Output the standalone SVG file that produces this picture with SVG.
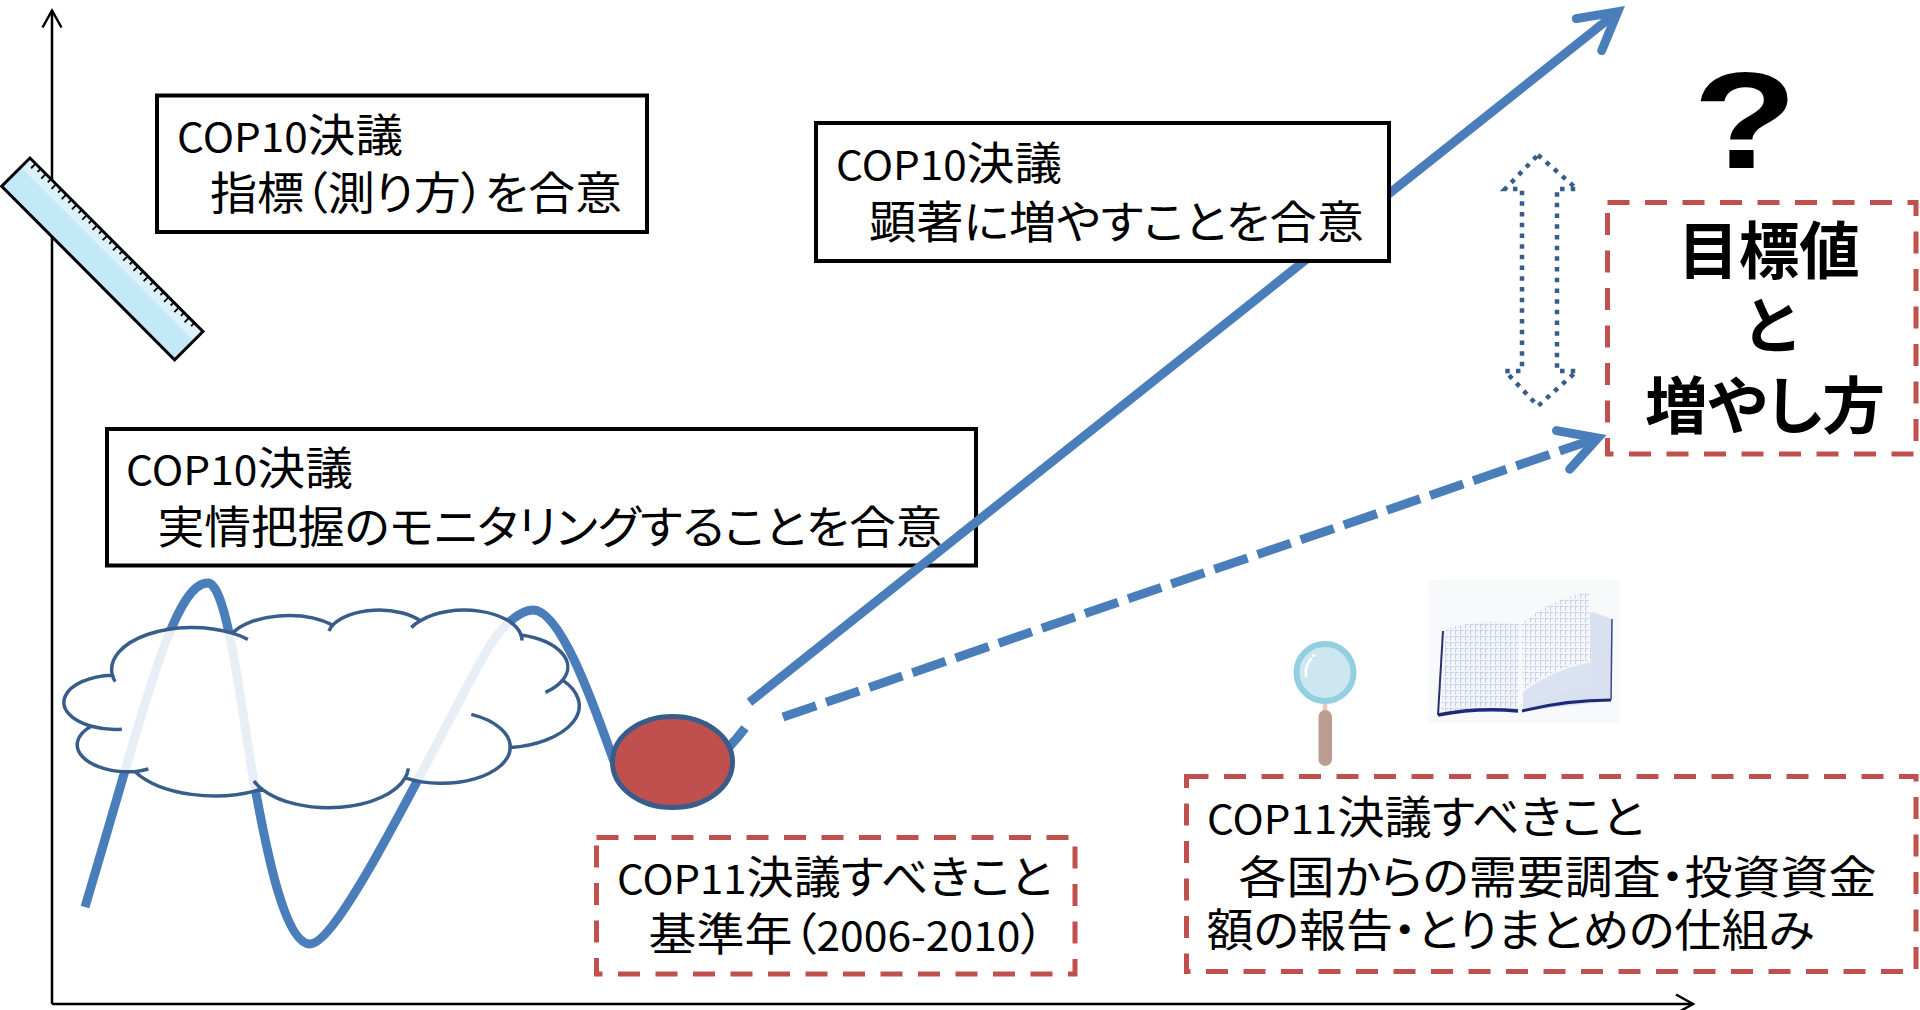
<svg xmlns="http://www.w3.org/2000/svg" width="1920" height="1010" viewBox="0 0 1920 1010">
<defs>
<style>
.tx{font-family:"Noto Sans CJK JP","Noto Sans",sans-serif;font-size:45px;fill:#000;font-feature-settings:"palt"}
.la{font-size:40px}
.bd{font-family:"Noto Sans CJK JP","Noto Sans",sans-serif;font-weight:700;font-size:62px;fill:#000;font-feature-settings:"palt"}
.box{fill:#fff;stroke:#000;stroke-width:4}
.dbox{fill:#fff;stroke:#C0504D;stroke-width:5;stroke-dasharray:22 15.5}
.blue{fill:none;stroke:#4A7EBB;stroke-width:9}
.axis{fill:none;stroke:#000;stroke-width:2.5}
</style>
<marker id="axisHead" markerUnits="userSpaceOnUse" orient="auto" overflow="visible" markerWidth="1" markerHeight="1">
<path d="M-17 -9.5L0 0L-17 9.5" fill="none" stroke="#000" stroke-width="2.5"/>
</marker>
<marker id="openHead" markerUnits="userSpaceOnUse" orient="auto" overflow="visible" markerWidth="1" markerHeight="1">
<path d="M-36.7 -20.4L0 0L-36.7 20.4" fill="none" stroke="#4A7EBB" stroke-width="9" stroke-linecap="round" stroke-linejoin="miter" stroke-miterlimit="10"/>
</marker>
<pattern id="pageGrid" patternUnits="userSpaceOnUse" width="5" height="6">
<path d="M0 0.5H3.6M0.5 0V4.6" stroke="#BBC5DC" stroke-width="0.8" fill="none"/>
</pattern>
</defs>
<rect width="1920" height="1010" fill="#fff"/>

<!-- axes -->
<g id="axes">
<path class="axis" d="M52 1004V10.5" marker-end="url(#axisHead)"/>
<path class="axis" d="M52 1004H1693" marker-end="url(#axisHead)"/>
</g>

<!-- ruler icon -->
<g id="ruler" transform="translate(30,158) rotate(45.1)">
<rect x="0" y="0" width="245" height="40" fill="#C3E8F7"/>
<rect x="0" y="0" width="245" height="13" fill="#DCF1FA"/>
<path d="M8 0V6.5M15.25 0V4.5M22.5 0V6.5M29.75 0V4.5M37 0V6.5M44.25 0V4.5M51.5 0V6.5M58.75 0V4.5M66 0V6.5M73.25 0V4.5M80.5 0V6.5M87.75 0V4.5M95 0V6.5M102.25 0V4.5M109.5 0V6.5M116.75 0V4.5M124 0V6.5M131.25 0V4.5M138.5 0V6.5M145.75 0V4.5M153 0V6.5M160.25 0V4.5M167.5 0V6.5M174.75 0V4.5M182 0V6.5M189.25 0V4.5M196.5 0V6.5M203.75 0V4.5M211 0V6.5M218.25 0V4.5M225.5 0V6.5M232.75 0V4.5" stroke="#000" stroke-width="1.8" fill="none"/>
<rect x="0" y="0" width="245" height="40" fill="none" stroke="#000" stroke-width="3"/>
</g>

<!-- COP10: indicator -->
<g id="boxIndicator">
<rect class="box" x="157" y="95.5" width="490" height="136.5"/>
<text class="tx"><tspan x="177" y="152" textLength="226" lengthAdjust="spacingAndGlyphs"><tspan class="la">COP10</tspan>決議</tspan><tspan x="210" y="210" textLength="412" lengthAdjust="spacingAndGlyphs">指標（測り方）を合意</tspan></text>
</g>

<!-- COP10: monitoring -->
<g id="boxMonitoring">
<rect class="box" x="107" y="429" width="869" height="136.5"/>
<text class="tx"><tspan x="126" y="485" textLength="227" lengthAdjust="spacingAndGlyphs"><tspan class="la">COP10</tspan>決議</tspan><tspan x="157.5" y="544" textLength="785" lengthAdjust="spacingAndGlyphs">実情把握のモニタリングすることを合意</tspan></text>
</g>

<!-- fluctuating history curve -->
<g id="history">
<path class="blue" d="M85 907C145 707 173 583 208 583C228 583 243 722 254 782C266.6 852 285 944 310 944C340 944 436 740 486 652C498.5 630 518 610 533 610C560 610 592 700 612 756C625 800 700 790 745 728"/>
</g>

<!-- cloud of uncertainty -->
<g id="cloud" transform="translate(66.1,609.4) scale(0.011873,0.0045746)">
<path d="M3900 14370A6753 9190 0 0 1 14005 5202A5333 7267 0 0 1 22456 3433A4365 5945 0 0 1 29834 2482A4857 6595 0 0 1 38319 5576A5333 7273 0 0 1 41820 15460A6775 9220 0 0 1 37406 30203A5785 7867 0 0 1 28557 36814A6752 9215 0 0 1 16482 39266A7720 10543 0 0 1 5805 35471A4360 5918 0 0 1 2114 25549A4345 5945 0 0 1 3900 14370Z" fill="#fff" fill-opacity="0.87" stroke="#385D8A" stroke-width="3.5" vector-effect="non-scaling-stroke"/>
<path d="M4127 15789A6753 9190 0 0 1 3900 14370M4693 26177A4345 5945 0 0 1 2114 25549M6928 34899A4360 5918 0 0 1 5805 35471M16482 39266A6752 9215 0 0 1 15814 37526M28827 34751A6752 9215 0 0 1 28557 36814M34129 22954A5785 7867 0 0 1 37406 30203M41820 15460A5333 7273 0 0 1 40372 18136M38319 5576A4857 6595 0 0 1 38395 6815M29078 3952A4857 6595 0 0 1 29834 2482M22141 4720A4365 5945 0 0 1 22456 3433M14005 5202A6753 9190 0 0 1 15307 6553" fill="none" stroke="#385D8A" stroke-width="3.5" vector-effect="non-scaling-stroke"/>
</g>

<!-- growth paths -->
<g id="connectors">
<path class="blue" d="M749.5 702.2L1617.7 11.8" marker-end="url(#openHead)"/>
<path class="blue" d="M783 717L1597.8 438" stroke-dasharray="35 10.6" marker-end="url(#openHead)"/>
</g>

<!-- base year point -->
<g id="baseYear">
<ellipse cx="672.5" cy="762" rx="60" ry="45.5" fill="#C0504D" stroke="#385D8A" stroke-width="5"/>
</g>

<!-- COP10: significant increase -->
<g id="boxIncrease">
<rect class="box" x="816" y="123" width="573" height="138"/>
<text class="tx"><tspan x="836" y="180" textLength="226" lengthAdjust="spacingAndGlyphs"><tspan class="la">COP10</tspan>決議</tspan><tspan x="869" y="238.5" textLength="495" lengthAdjust="spacingAndGlyphs">顕著に増やすことを合意</tspan></text>
</g>

<!-- COP11: base year -->
<g id="boxBaseYear">
<rect class="dbox" x="596.5" y="837.5" width="478.5" height="136.5"/>
<text class="tx"><tspan x="617" y="893.5" textLength="435" lengthAdjust="spacingAndGlyphs"><tspan class="la">COP11</tspan>決議すべきこと</tspan><tspan x="648.5" y="950.5" textLength="396" lengthAdjust="spacingAndGlyphs">基準年（<tspan class="la">2006-2010</tspan>）</tspan></text>
</g>

<!-- COP11: reporting -->
<g id="boxReporting">
<rect class="dbox" x="1186.5" y="776.5" width="729.5" height="195"/>
<text class="tx"><tspan x="1207" y="833.5" textLength="437" lengthAdjust="spacingAndGlyphs"><tspan class="la">COP11</tspan>決議すべきこと</tspan><tspan x="1238.5" y="893.5" textLength="638" lengthAdjust="spacingAndGlyphs">各国からの需要調査・投資資金</tspan><tspan x="1206.5" y="947" textLength="608" lengthAdjust="spacingAndGlyphs">額の報告・とりまとめの仕組み</tspan></text>
</g>

<!-- target value -->
<g id="boxTarget">
<rect class="dbox" x="1607.5" y="202.5" width="308.5" height="251.5"/>
<text class="bd"><tspan x="1678" y="274" textLength="182" lengthAdjust="spacingAndGlyphs">目標値</tspan><tspan x="1745" y="349">と</tspan><tspan x="1645" y="429" textLength="240" lengthAdjust="spacingAndGlyphs">増やし方</tspan></text>
</g>

<g id="question">
<text transform="translate(1745,168) scale(1.25,1)" x="0" y="0" text-anchor="middle" style="font-family:'Liberation Sans',Arial,sans-serif;font-weight:700;font-size:137px;fill:#000">?</text>
</g>

<!-- range between the two paths -->
<g id="range">
<path d="M1538 155L1577 189L1557 189L1557 371L1577 371L1538 406L1505 371L1522 371L1522 189L1505 189Z" fill="none" stroke="#385D8A" stroke-width="4.5" stroke-dasharray="4.5 6.2"/>
</g>

<!-- magnifier icon -->
<g id="magnifier">
<path d="M1325 702V714" stroke="#E8CBBE" stroke-width="4.5"/>
<rect x="1318.5" y="710" width="13.5" height="56" rx="6.75" fill="#BD9C91"/>
<circle cx="1325" cy="672.5" r="28.5" fill="#CDE7F1" stroke="#93CEE1" stroke-width="6"/>
<path d="M1306 676A20 20 0 0 1 1311 659" fill="none" stroke="#fff" stroke-width="2.5" stroke-linecap="round"/>
<circle cx="1313.5" cy="655.5" r="1.8" fill="#fff"/>
</g>

<!-- book icon -->
<g id="book">
<rect x="1428" y="580" width="192" height="143" fill="#F8F9FB"/>
<path d="M1524 626L1593 612L1612 619L1610 701L1523 711Z" fill="#D9E0EF"/>
<path d="M1446 629Q1484 617 1520 624L1517 709Q1480 706 1441 713Z" fill="#F1F4FA"/>
<path d="M1446 629Q1484 617 1520 624L1517 709Q1480 706 1441 713Z" fill="url(#pageGrid)"/>
<path d="M1521 624Q1548 600 1589 592L1592 686Q1556 690 1523 709Z" fill="#F4F6FB"/>
<path d="M1521 624Q1548 600 1589 592L1591 660Q1552 668 1523 690Z" fill="url(#pageGrid)"/>
<path d="M1523 709Q1556 690 1592 686L1591 662Q1552 670 1523 692Z" fill="#C9D5EC" opacity="0.6"/>
<path d="M1443 631L1438 715" stroke="#27306F" stroke-width="2" fill="none"/>
<path d="M1438 715Q1478 707 1518 711" stroke="#1D2A78" stroke-width="3.5" fill="none"/>
<path d="M1522 711Q1566 700 1611 700" stroke="#1D2A78" stroke-width="3" fill="none"/>
<path d="M1612 619L1611 700" stroke="#3A4585" stroke-width="1.5" fill="none"/>
</g>
</svg>
